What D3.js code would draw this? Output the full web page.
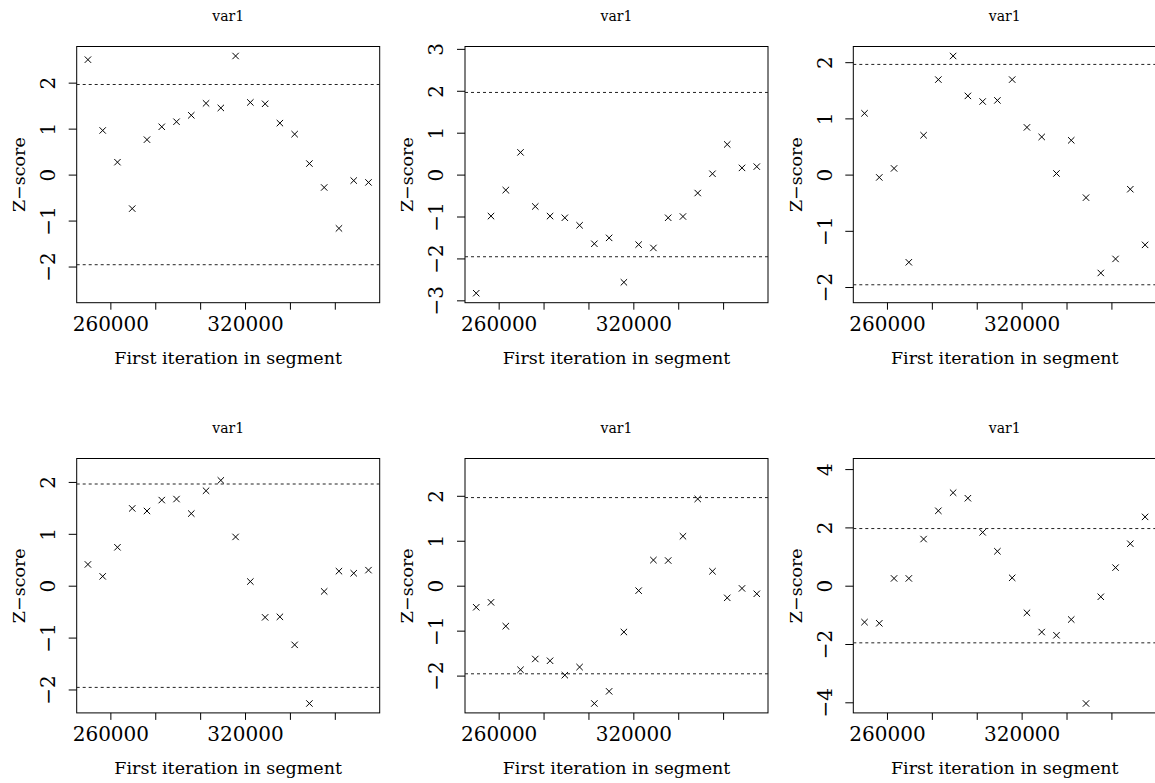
<!DOCTYPE html>
<html>
<head>
<meta charset="utf-8">
<script src="https://cdn.jsdelivr.net/npm/d3@7"></script>
<style>
  html, body { margin: 0; padding: 0; background: #fff; }
  svg { display: block; }
  text { font-family: "DejaVu Serif", serif; fill: #000; }
</style>
</head>
<body>
<svg id="chart" width="1155" height="783"></svg>
<script>
// ---- data ----
const panelTitles = ["var1", "var1", "var1", "var1", "var1", "var1"];
const segmentStarts = [250001, 256580, 263159, 269738, 276317, 282896, 289475, 296054, 302633, 309212,
                       315790, 322369, 328948, 335527, 342106, 348685, 355264, 361843, 368422, 375001];
const z1 = [2.50, 0.96, 0.27, -0.74, 0.76, 1.04, 1.15, 1.29, 1.55, 1.45,
            2.58, 1.57, 1.54, 1.12, 0.88, 0.24, -0.28, -1.17, -0.13, -0.17];
const z2 = [-2.83, -0.99, -0.37, 0.53, -0.76, -0.99, -1.03, -1.21, -1.65, -1.51,
            -2.57, -1.67, -1.75, -1.03, -1.00, -0.44, 0.02, 0.72, 0.16, 0.19];
const z3 = [1.09, -0.05, 0.11, -1.56, 0.70, 1.69, 2.11, 1.40, 1.30, 1.32,
            1.69, 0.84, 0.67, 0.02, 0.61, -0.41, -1.75, -1.50, -0.26, -1.25];
const z4 = [0.41, 0.18, 0.74, 1.49, 1.44, 1.65, 1.67, 1.39, 1.83, 2.03,
            0.94, 0.08, -0.61, -0.60, -1.14, -2.27, -0.11, 0.28, 0.24, 0.30];
const z5 = [-0.48, -0.37, -0.90, -1.87, -1.63, -1.67, -1.99, -1.81, -2.62, -2.35,
            -1.03, -0.11, 0.57, 0.56, 1.10, 1.93, 0.32, -0.27, -0.06, -0.18];
const z6 = [-1.25, -1.29, 0.25, 0.25, 1.60, 2.57, 3.19, 3.00, 1.83, 1.18,
            0.27, -0.93, -1.59, -1.70, -1.16, -4.04, -0.38, 0.62, 1.44, 2.36];
const zSeries = [z1, z2, z3, z4, z5, z6];
const xTickValues = [260000, 280000, 300000, 320000, 340000, 360000];
const xTickLabels = ["260000", "", "", "320000", "", ""];
const criticalLines = [-1.96, 1.96];
const xAxisTitle = "First iteration in segment";
const yAxisTitle = "Z\u2212score";

// ---- layout ----
const colLeft = [76.7, 465, 853.3];
const rowTop = [46.5, 458.5];
const rowHeight = [256.2, 254.4];
const boxW = 303;

const svg = d3.select("#chart");
svg.append("rect").attr("width", 1155).attr("height", 783).attr("fill", "#fff");

zSeries.forEach((zs, i) => {
  const col = i % 3, row = Math.floor(i / 3);
  const L = colLeft[col], T = rowTop[row], H = rowHeight[row];
  const g = svg.append("g");

  const xe = d3.extent(segmentStarts);
  const xpad = (xe[1] - xe[0]) * 0.04;
  const x = d3.scaleLinear().domain([xe[0] - xpad, xe[1] + xpad]).range([L, L + boxW]);
  const m = Math.max(2, d3.max(zs, d => Math.abs(d)));
  const y = d3.scaleLinear().domain([-m * 1.08, m * 1.08]).range([T + H, T]);

  // box
  g.append("rect").attr("x", L).attr("y", T).attr("width", boxW).attr("height", H)
    .attr("fill", "none").attr("stroke", "#000").attr("stroke-width", 1);

  // x axis
  const xAxis = d3.axisBottom(x).tickValues(xTickValues).tickSize(7)
    .tickFormat((d, k) => xTickLabels[k]);
  const xg = g.append("g").attr("transform", `translate(0,${T + H})`).call(xAxis);
  xg.select(".domain").remove();
  xg.selectAll(".tick line").attr("stroke", "#000");
  xg.selectAll(".tick text").attr("y", 0).attr("dy", 28.5)
    .style("font-family", "DejaVu Serif").style("font-size", "20px").attr("fill", "#000");

  // y axis
  const yAxis = d3.axisLeft(y).ticks(5).tickSize(8).tickFormat(d => d3.format("d")(d).replace("-", "\u2212"));
  const yg = g.append("g").attr("transform", `translate(${L},0)`).call(yAxis);
  yg.select(".domain").remove();
  yg.selectAll(".tick line").attr("stroke", "#000");
  yg.selectAll(".tick text").attr("x", null).attr("dy", null)
    .attr("text-anchor", "middle")
    .attr("transform", "translate(-21.7,0) rotate(-90)")
    .style("font-family", "DejaVu Serif").style("font-size", "20px").attr("fill", "#000");

  // critical lines
  g.selectAll("line.crit").data(criticalLines).join("line").attr("class", "crit")
    .attr("x1", L).attr("x2", L + boxW)
    .attr("y1", d => y(d)).attr("y2", d => y(d))
    .attr("stroke", "#222").attr("stroke-width", 1).attr("stroke-dasharray", "3,3");

  // points (pch = 4, crosses)
  const s = 3.2;
  const pts = g.selectAll("g.pt").data(zs).join("g").attr("class", "pt")
    .attr("transform", (d, k) => `translate(${x(segmentStarts[k])},${y(d)})`);
  pts.append("path").attr("d", `M${-s},${-s}L${s},${s}M${-s},${s}L${s},${-s}`)
    .attr("stroke", "#000").attr("stroke-width", 1).attr("fill", "none");

  // title
  g.append("text").attr("x", L + boxW / 2).attr("y", T - 25.8)
    .attr("text-anchor", "middle").style("font-size", "14px").text(panelTitles[i]);

  // axis titles
  g.append("text").attr("x", L + boxW / 2).attr("y", T + H + 61)
    .attr("text-anchor", "middle").style("font-size", "17.5px").text(xAxisTitle);
  g.append("text").attr("transform", `translate(${L - 51.7},${T + H / 2}) rotate(-90)`)
    .attr("text-anchor", "middle").style("font-size", "17.5px").text(yAxisTitle);
});
</script>
</body>
</html>
